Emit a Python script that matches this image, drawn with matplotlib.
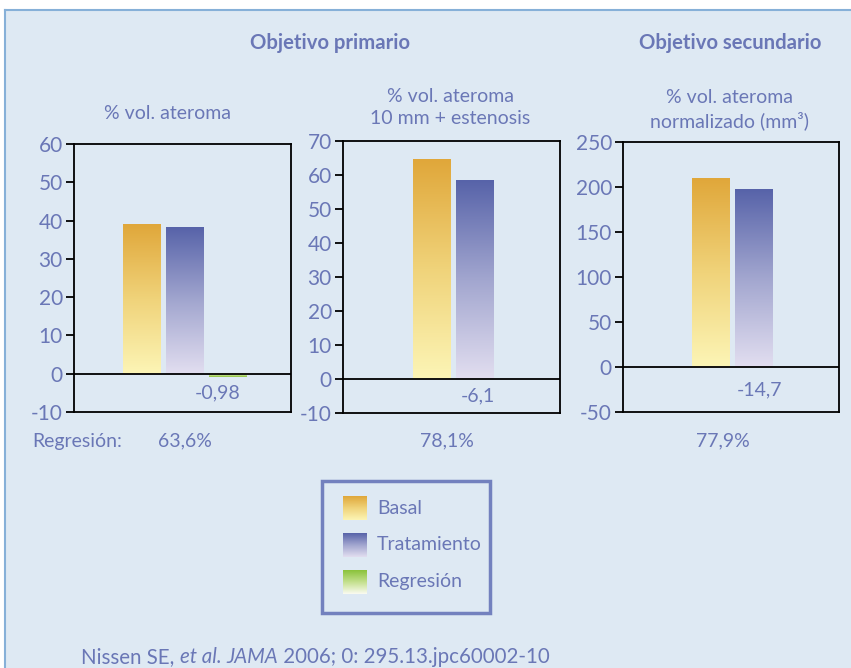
import numpy as np
import matplotlib.pyplot as plt
from matplotlib.colors import LinearSegmentedColormap
from matplotlib.patches import Rectangle
from matplotlib.lines import Line2D

plt.rcParams['font.family'] = ['Lato', 'DejaVu Sans']

# datos de los tres paneles
paneles = ['% vol. ateroma', '% vol. ateroma\n10 mm + estenosis', '% vol. ateroma\nnormalizado (mm³)']
basal = [39.0, 64.5, 210]
tratamiento = [38.3, 58.5, 197]
regresion = [-0.98, None, None]
etiquetas_cambio = ['-0,98', '-6,1', '-14,7']
porcentaje_regresion = ['63,6%', '78,1%', '77,9%']
limites_y = [(-10, 60), (-10, 70), (-50, 250)]
ticks_y = [np.arange(-10, 61, 10), np.arange(-10, 71, 10), np.arange(-50, 251, 50)]

azul = '#6a77b6'
fondo = '#dee9f3'

W, H = 851, 668
fig = plt.figure(figsize=(W / 100, H / 100), dpi=100)
fig.patch.set_facecolor('white')

# fondo con marco superior e izquierdo
fondo_ax = fig.add_axes([0, 0, 1, 1])
fondo_ax.set_xlim(0, W)
fondo_ax.set_ylim(H, 0)
fondo_ax.axis('off')
fondo_ax.add_patch(Rectangle((5, 10), W, H, facecolor=fondo, edgecolor='none'))
fondo_ax.add_line(Line2D([5, W], [10, 10], color='#86b0d8', lw=1.5))
fondo_ax.add_line(Line2D([5, 5], [10, H], color='#86b0d8', lw=1.5))

cmap_basal = LinearSegmentedColormap.from_list('basal', ['#fcf5b6', '#f0d37a', '#e0a73a'])
cmap_trat = LinearSegmentedColormap.from_list('trat', ['#e2def0', '#a2a6cf', '#5763a9'])
cmap_reg = LinearSegmentedColormap.from_list('reg', ['#fbfbf2', '#c4e08e', '#8ac23a'])
gradiente = np.linspace(0, 1, 256).reshape(-1, 1)

# posiciones en pixeles: (izq, der, arriba, abajo) y desplazamiento de barras
cajas = [(74, 291, 144, 412), (343, 560, 141, 413), (623, 839, 142, 412)]
inicio_barras = [1.58, 2.07, 2.05]
x_cambio = [218, 478, 760]
y_subtitulo = [119, 124, 127]
x_subtitulo = [168, 450, 730]
unidad = 43.0
ancho = 38 / unidad


def barra_gradiente(ax, x, valor, cmap):
    y0, y1 = (0, valor) if valor >= 0 else (valor, 0)
    datos = gradiente if valor >= 0 else gradiente[::-1]
    ax.imshow(datos, extent=[x - ancho / 2, x + ancho / 2, y0, y1],
              origin='lower', aspect='auto', cmap=cmap, zorder=2)


for i in range(3):
    l, r, t, b = cajas[i]
    ax = fig.add_axes([l / W, 1 - b / H, (r - l) / W, (b - t) / H])
    ax.set_facecolor('none')
    x0 = inicio_barras[i]
    barra_gradiente(ax, x0, basal[i], cmap_basal)
    barra_gradiente(ax, x0 + 1, tratamiento[i], cmap_trat)
    if regresion[i] is not None:
        barra_gradiente(ax, x0 + 2, regresion[i], cmap_reg)
    ax.axhline(0, color='black', lw=1.3, zorder=3)
    ax.set_xlim(0, (r - l) / unidad)
    ax.set_ylim(*limites_y[i])
    ax.set_yticks(ticks_y[i])
    ax.set_yticklabels([str(v) for v in ticks_y[i]])
    ax.set_xticks([])
    ax.tick_params(axis='y', direction='out', length=6, width=1.3, color='black',
                   labelcolor=azul, labelsize=15, pad=2)
    for s in ax.spines.values():
        s.set_color('black')
        s.set_linewidth(1.3)

    # etiqueta del cambio bajo el eje cero
    ax.text((x_cambio[i] - l) / unidad, limites_y[i][0] * 0.5, etiquetas_cambio[i],
            ha='center', va='center', color=azul, fontsize=14)

    # subtitulo del panel
    fig.text(x_subtitulo[i] / W, 1 - y_subtitulo[i] / H, paneles[i], ha='center',
             va='baseline', color=azul, fontsize=14, linespacing=1.35)

    # porcentaje de regresion
    fig.text([185, 447, 723][i] / W, 1 - 441 / H, porcentaje_regresion[i],
             ha='center', va='center', color=azul, fontsize=14)

fig.text(77 / W, 1 - 441 / H, 'Regresión:', ha='center', va='center', color=azul, fontsize=14)

fig.text(330 / W, 1 - 43 / H, 'Objetivo primario', ha='center', va='center',
         color=azul, fontsize=14.6, fontweight='bold')
fig.text(730 / W, 1 - 43 / H, 'Objetivo secundario', ha='center', va='center',
         color=azul, fontsize=14.6, fontweight='bold')

# leyenda dibujada a mano
ley = fig.add_axes([0, 0, 1, 1])
ley.set_xlim(0, W)
ley.set_ylim(H, 0)
ley.axis('off')
ley.add_patch(Rectangle((322, 481), 168, 132, facecolor='none', edgecolor='#7381be', lw=2.5))
nombres = ['Basal', 'Tratamiento', 'Regresión']
for j, (nombre, cm) in enumerate(zip(nombres, [cmap_basal, cmap_trat, cmap_reg])):
    yc = 508 + j * 37
    ley.imshow(gradiente, extent=[343, 367, yc + 12, yc - 12], origin='lower',
               aspect='auto', cmap=cm)
    ley.text(377, yc, nombre, ha='left', va='center', color=azul, fontsize=14)
ley.set_xlim(0, W)
ley.set_ylim(H, 0)

# referencia al pie, con partes en cursiva, encadenadas en pixeles
partes = [('Nissen SE, ', 'normal'), ('et al.', 'italic'), (' ', 'normal'),
          ('JAMA', 'italic'), (' 2006; 0: 295.13.jpc60002-10', 'normal')]
render = fig.canvas.get_renderer()
x_px = 81
for texto, estilo in partes:
    txt = fig.text(x_px / W, 1 - 663 / H, texto, ha='left', va='baseline',
                   color=azul, fontsize=14.8, style=estilo)
    x_px += txt.get_window_extent(render).width

fig.savefig('out.png', dpi=100, facecolor=fig.get_facecolor())
